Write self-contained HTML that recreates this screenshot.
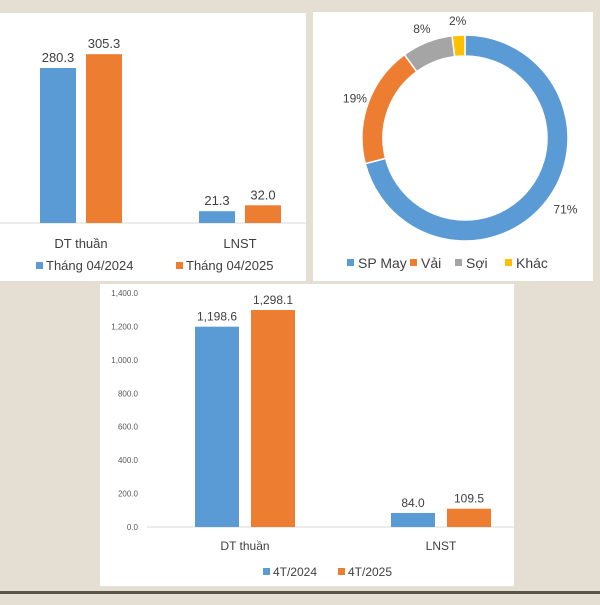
<!DOCTYPE html>
<html><head><meta charset="utf-8"><style>
body{margin:0;width:600px;height:600px;background:#e4ded3;overflow:hidden;font-family:"Liberation Sans",sans-serif}
svg text{font-family:"Liberation Sans",sans-serif}
</style></head><body>
<svg width="600" height="600">
<rect x="0" y="0" width="600" height="600" fill="#e4ded3"/>
<rect x="0" y="13" width="306" height="268" fill="#fff"/>
<rect x="313" y="12" width="280" height="269" fill="#fff"/>
<rect x="100" y="284" width="414" height="302" fill="#fff"/>
<rect x="0" y="591" width="600" height="3" fill="#5a544c"/>
<g id="g1"></g><g id="g2"></g><g id="g3"></g>
</svg>
<script>
const NS="http://www.w3.org/2000/svg";
function mk(p,t,a,txt){const e=document.createElementNS(NS,t);for(const k in a)e.setAttribute(k,a[k]);if(txt!==undefined)e.textContent=txt;p.appendChild(e);return e;}
const BLUE="#5b9bd5",ORANGE="#ed7d31",GRAY="#a5a5a5",YEL="#ffc000";

// Chart 1
const cats1=["DT thuần","LNST"];
const s1a=[280.3,21.3];
const s1b=[305.3,32.0];
const labels1a=["280.3","21.3"];
const labels1b=["305.3","32.0"];
const legend1=["Tháng 04/2024","Tháng 04/2025"];
// Chart 2
const donutCats=["SP May","Vải","Sợi","Khác"];
const donutVals=[71,19,8,2];
// Chart 3
const cats3=["DT thuần","LNST"];
const s3a=[1198.6,84.0];
const s3b=[1298.1,109.5];
const labels3a=["1,198.6","84.0"];
const labels3b=["1,298.1","109.5"];
const ticks3=[0,200,400,600,800,1000,1200,1400];
const tickLabels3=["0.0","200.0","400.0","600.0","800.0","1,000.0","1,200.0","1,400.0"];
const legend3=["4T/2024","4T/2025"];

function barChart(g,o){
  const y=v=>o.base-v*o.k;
  mk(g,"line",{x1:o.x0,x2:o.x1,y1:o.base,y2:o.base,stroke:"#d9d9d9","stroke-width":1});
  o.cats.forEach((c,i)=>{
    const cx=o.c0+i*o.step;
    [[o.a,o.la,BLUE,-1],[o.b,o.lb,ORANGE,1]].forEach(([arr,lab,col,s],j)=>{
      const bx=s<0?cx-o.gap/2-o.bw:cx+o.gap/2;
      const r=mk(g,"rect",{x:bx,y:y(arr[i]),width:o.bw,height:o.base-y(arr[i]),fill:col});
      
      
      const t=mk(g,"text",{x:bx+o.bw/2,y:y(arr[i])-6,"text-anchor":"middle","font-size":o.fs,fill:"#404040"},lab[i]);
      
      
    });
    const t=mk(g,"text",{x:cx,y:o.catY,"text-anchor":"middle","font-size":o.fs,fill:"#404040"},c);
    
    
  });
  o.leg.forEach((l,i)=>{
    const lx=o.legX[i];
    const s=mk(g,"rect",{x:lx,y:o.legY-8,width:7,height:7,fill:i?ORANGE:BLUE});
    
    
    const t=mk(g,"text",{x:lx+10,y:o.legY,"font-size":o.fs,fill:"#404040"},l);
    
    
  });
}
barChart(document.getElementById("g1"),{cats:cats1,a:s1a,b:s1b,la:labels1a,lb:labels1b,leg:legend1,base:223,k:155/280.3,x0:0,x1:306,c0:81,step:159,bw:36,gap:10,fs:13,catY:248,legY:270,legX:[36,176]});

const g3=document.getElementById("g3");
const k3=234/1400;
ticks3.forEach((v,i)=>{
  const t=mk(g3,"text",{x:138,y:527-v*k3+3,"text-anchor":"end","font-size":8,fill:"#595959"},tickLabels3[i]);
  
  
});
barChart(g3,{cats:cats3,a:s3a,b:s3b,la:labels3a,lb:labels3b,leg:legend3,base:527,k:k3,x0:147,x1:514,c0:245,step:196,bw:44,gap:12,fs:12,catY:550,legY:576,legX:[263,338]});

// donut
const g2=document.getElementById("g2");
const cx=465,cy=138,R=103,r=82,total=donutVals.reduce((a,b)=>a+b,0);
const cols=[BLUE,ORANGE,GRAY,YEL];
let a0=0;
donutVals.forEach((v,i)=>{
  const a1=a0+v/total*2*Math.PI;
  const P=(rad,a)=>[cx+rad*Math.sin(a),cy-rad*Math.cos(a)];
  const lg=(a1-a0)>Math.PI?1:0;
  const [x1,y1]=P(R,a0),[x2,y2]=P(R,a1),[x3,y3]=P(r,a1),[x4,y4]=P(r,a0);
  const p=mk(g2,"path",{d:`M${x1},${y1}A${R},${R} 0 ${lg} 1 ${x2},${y2}L${x3},${y3}A${r},${r} 0 ${lg} 0 ${x4},${y4}Z`,fill:cols[i],stroke:"#fff","stroke-width":1.5});
  
  
  const am=(a0+a1)/2;
  const [lx,ly]=P(R+14,am);
  const t=mk(g2,"text",{x:lx+(i==0?8:0),y:ly+4,"text-anchor":"middle","font-size":12,fill:"#404040"},v+"%");
  
  
  a0=a1;
});
const legX=[347,410,455,505];
donutCats.forEach((c,i)=>{
  const s=mk(g2,"rect",{x:legX[i],y:259,width:7,height:7,fill:cols[i]});
  
  
  const t=mk(g2,"text",{x:legX[i]+11,y:268,"font-size":14,fill:"#404040"},c);
  
  
});
</script>
</body></html>
